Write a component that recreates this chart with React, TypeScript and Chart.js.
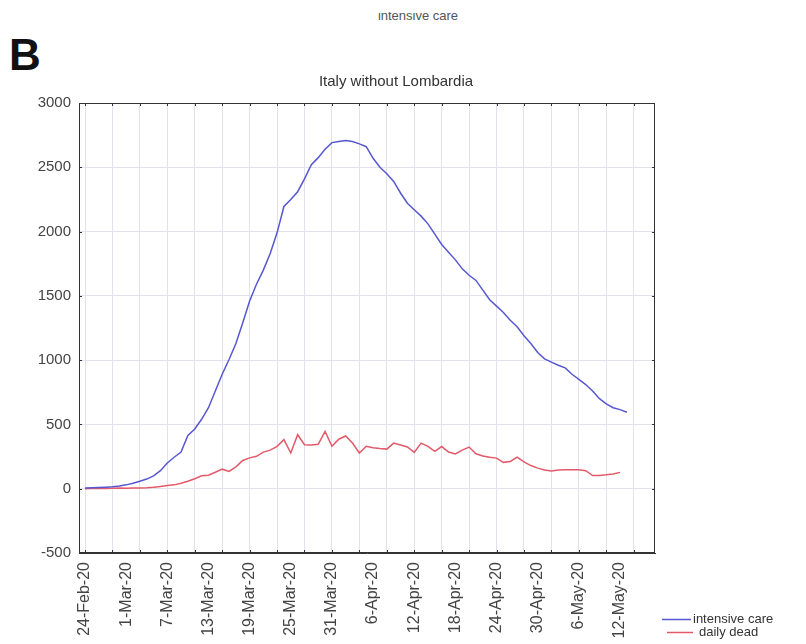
import React, { useEffect, useRef } from "react";
import { Chart, registerables } from "chart.js";

Chart.register(...registerables);

const FONT = "'Liberation Sans', Arial, sans-serif";

// x positions are day indices counted from 24-Feb-20
const tickDays = [0, 6, 12, 18, 24, 30, 36, 42, 48, 54, 60, 66, 72, 78];
const tickLabels = [
  "24-Feb-20", "1-Mar-20", "7-Mar-20", "13-Mar-20", "19-Mar-20", "25-Mar-20", "31-Mar-20",
  "6-Apr-20", "12-Apr-20", "18-Apr-20", "24-Apr-20", "30-Apr-20", "6-May-20", "12-May-20",
];
const gridDays = [0, 4, 8, 12, 16, 20, 24, 28, 32, 36, 40, 44, 48, 52, 56, 60, 64, 68, 72, 76, 80];

const seriesNames = ["intensive care", "daily dead"];
const seriesColors = ["#5757d2", "#e25a6a"];

const intensiveCare = [
  5, 7, 9, 12, 16, 22, 30, 42, 58, 75,
  100, 140, 200, 245, 285, 415, 465, 540, 630, 760,
  890, 1005, 1130, 1290, 1460, 1590, 1700, 1830, 1990, 2195,
  2250, 2310, 2410, 2520, 2575, 2640, 2692, 2700, 2708, 2700,
  2682, 2660, 2570, 2500, 2450, 2390, 2300, 2220, 2170, 2120,
  2060, 1980, 1900, 1840, 1780, 1710, 1660, 1620, 1545, 1470,
  1420, 1370, 1310, 1260, 1190, 1130, 1060, 1010, 985, 960,
  940, 890, 850, 810, 760, 700, 660, 630, 615, 595,
];

const dailyDead = [
  0, 2, 3, 2, 4, 5, 3, 6, 6, 8,
  12, 18, 25, 30, 42, 58, 78, 100, 105, 128,
  152, 135, 170, 220, 240, 252, 285, 300, 330, 382,
  278, 420, 342, 340, 345, 446, 330, 385, 410, 355,
  278, 330, 318, 312, 308, 355, 340, 325, 282, 355,
  330, 290, 328, 285, 270, 300, 324, 272, 255, 245,
  238, 205, 212, 245, 208, 180, 160, 145, 138, 145,
  148, 148, 148, 140, 102, 103, 108, 115, 127,
];

const Y_MIN = -500;
const Y_MAX = 3000;
const Y_STEP = 500;
const X_MIN = -0.875;
const X_MAX = 83.1;

const allXTicks = Array.from(new Set([...gridDays, ...tickDays])).sort((a, b) => a - b);

const frameTicksPlugin = {
  id: "frameTicks",
  afterDraw(chart: any) {
    const { ctx, chartArea: a, scales } = chart;
    ctx.save();
    ctx.strokeStyle = "#333";
    ctx.lineWidth = 1;
    ctx.strokeRect(Math.round(a.left) + 0.5, Math.round(a.top) + 0.5, Math.round(a.right - a.left) - 1, Math.round(a.bottom - a.top) - 1);
    ctx.beginPath();
    for (const d of gridDays) {
      const x = Math.round(scales.x.getPixelForValue(d)) + 0.5;
      ctx.moveTo(x, a.top); ctx.lineTo(x, a.top + 3);
      ctx.moveTo(x, a.bottom); ctx.lineTo(x, a.bottom - 3);
    }
    for (let v = Y_MIN; v <= Y_MAX; v += Y_STEP) {
      const y = Math.round(scales.y.getPixelForValue(v)) + 0.5;
      ctx.moveTo(a.left, y); ctx.lineTo(a.left + 3, y);
      ctx.moveTo(a.right, y); ctx.lineTo(a.right - 3, y);
    }
    ctx.stroke();
    ctx.restore();
  },
};

const sideLegendPlugin = {
  id: "sideLegend",
  afterDraw(chart: any) {
    const { ctx, chartArea: a } = chart;
    ctx.save();
    ctx.font = `13px ${FONT}`;
    ctx.textBaseline = "middle";
    ctx.textAlign = "left";
    chart.data.datasets.forEach((ds: any, i: number) => {
      const y = 619 + i * 13;
      const x0 = a.right + 7 + (i === 1 ? 5 : 0);
      ctx.strokeStyle = ds.borderColor;
      ctx.lineWidth = 1.5;
      ctx.beginPath();
      ctx.moveTo(x0, y + 0.5);
      ctx.lineTo(x0 + 29 - (i === 1 ? 3 : 0), y + 0.5);
      ctx.stroke();
      ctx.fillStyle = "#333";
      ctx.fillText(ds.label, x0 + 31 + (i === 1 ? 1 : 0), y);
    });
    ctx.restore();
  },
};

export default function App() {
  const ref = useRef<HTMLCanvasElement | null>(null);

  useEffect(() => {
    if (!ref.current) return;
    Chart.defaults.font.family = FONT;
    const chart = new Chart(ref.current, {
      type: "line",
      data: {
        datasets: [
          {
            label: seriesNames[0],
            data: intensiveCare.map((v, i) => ({ x: i, y: v })),
            borderColor: seriesColors[0],
            backgroundColor: seriesColors[0],
            borderWidth: 1.5,
            pointRadius: 0,
            tension: 0,
          },
          {
            label: seriesNames[1],
            data: dailyDead.map((v, i) => ({ x: i, y: v })),
            borderColor: seriesColors[1],
            backgroundColor: seriesColors[1],
            borderWidth: 1.5,
            pointRadius: 0,
            tension: 0,
          },
        ],
      },
      options: {
        animation: false,
        responsive: false,
        devicePixelRatio: 1,
        layout: { padding: { left: 0, right: 14, top: 0, bottom: 0 } },
        plugins: {
          legend: { display: false },
          tooltip: { enabled: false },
          title: {
            display: true,
            text: "Italy without Lombardia",
            color: "#333",
            font: { size: 15, weight: "normal", family: FONT },
            padding: { top: 73, bottom: 12 },
          },
        },
        scales: {
          x: {
            type: "linear",
            min: X_MIN,
            max: X_MAX,
            afterBuildTicks: (axis: any) => {
              axis.ticks = allXTicks.map((v) => ({ value: v }));
            },
            afterFit: (axis: any) => {
              axis.height = 91;
            },
            ticks: {
              autoSkip: false,
              minRotation: 90,
              maxRotation: 90,
              padding: 9,
              color: "#444",
              font: { size: 16, family: FONT },
              callback: (value: any) => {
                const idx = tickDays.indexOf(Number(value));
                return idx >= 0 ? tickLabels[idx] : "";
              },
            },
            grid: {
              drawTicks: false,
              color: (c: any) => (c.tick && gridDays.includes(c.tick.value) ? "#e2e2ec" : "rgba(0,0,0,0)"),
            },
            border: { display: true, color: "#333" },
          },
          y: {
            min: Y_MIN,
            max: Y_MAX,
            afterFit: (axis: any) => {
              axis.width = 79;
            },
            ticks: {
              stepSize: Y_STEP,
              padding: 8,
              color: "#444",
              font: { size: 15, family: FONT },
              callback: (value: any) => String(value),
            },
            grid: { drawTicks: false, color: "#e2e2ec" },
            border: { display: true, color: "#333" },
          },
          spacer: {
            type: "linear",
            position: "right",
            display: true,
            afterFit: (axis: any) => {
              axis.width = 137;
            },
            ticks: { display: false },
            grid: { display: false },
            border: { display: false },
          },
        },
      },
      plugins: [frameTicksPlugin, sideLegendPlugin],
    } as any);
    return () => chart.destroy();
  }, []);

  return (
    <div style={{ position: "fixed", left: 0, top: 0, width: 806, height: 644, background: "#fff", overflow: "hidden" }}>
      <div
        style={{ position: "absolute", left: 0, top: 12, width: 836, height: 10, overflow: "hidden" }}
      >
        <div
          style={{
            position: "absolute",
            left: 0,
            width: 836,
            top: -3,
            textAlign: "center",
            fontFamily: FONT,
            fontSize: 13,
            lineHeight: 1,
            color: "#555",
          }}
        >
          intensive care
        </div>
      </div>
      <div
        style={{
          position: "absolute",
          left: 9,
          top: 33,
          fontFamily: FONT,
          fontWeight: "bold",
          fontSize: 44,
          lineHeight: 1,
          color: "#111",
        }}
      >
        B
      </div>
      <canvas ref={ref} width={806} height={644} style={{ position: "absolute", left: 0, top: 0 }} />
    </div>
  );
}
